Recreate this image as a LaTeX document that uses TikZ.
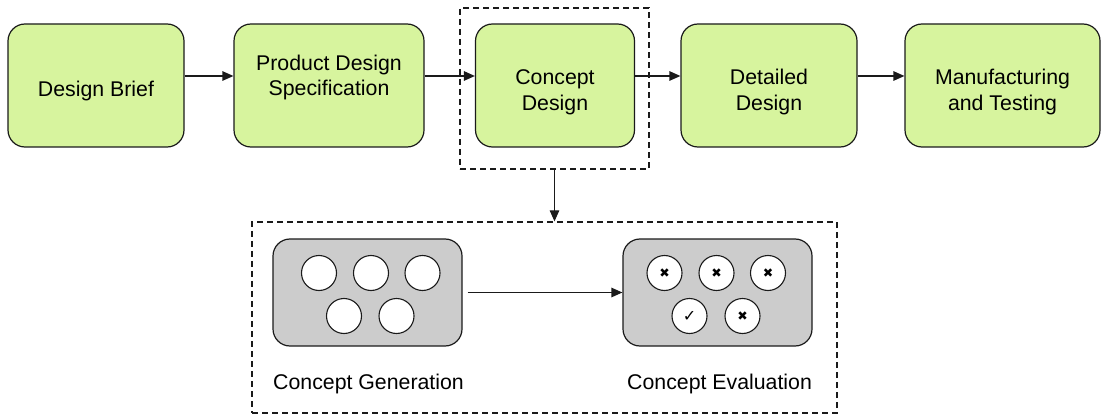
\documentclass[tikz,border=0pt]{standalone}
\usepackage{fontspec}
\setmainfont{Liberation Sans}
\newfontfamily\symfont{DejaVu Sans}
\usetikzlibrary{arrows.meta}
\definecolor{stagegreen}{HTML}{D7F49E}
\definecolor{panelgray}{HTML}{CCCCCC}
\definecolor{edge}{HTML}{1A1A1A}
\begin{document}
\begin{tikzpicture}[x=1pt,y=-1pt,
  stagebox/.style={draw=edge, line width=1.2pt, fill=stagegreen, rounded corners=17pt,
    minimum height=123pt, inner sep=0pt},
  stagelabel/.style={align=center, inner sep=0pt, font=\fontsize{21.3}{26}\selectfont},
  dashbox/.style={draw=edge, line width=1.3pt, dash pattern=on 6pt off 4pt, inner sep=0pt},
  panel/.style={draw=edge, line width=1.2pt, fill=panelgray, rounded corners=17pt,
    minimum width=189pt, minimum height=107pt, inner sep=0pt},
  idea/.style={circle, draw=edge, line width=1.1pt, fill=white, minimum size=35pt, inner sep=0pt},
  flow/.style={draw=edge, line width=1.2pt, -{Triangle[length=11pt,width=9.5pt]}},
  caption/.style={anchor=west, inner sep=0pt, font=\fontsize{21.3}{26}\selectfont},
  cross/.style={font=\symfont\fontsize{12.5}{12.5}\selectfont},
]
\useasboundingbox (0,0) rectangle (1106,417);

% top row stages
\node[stagebox, minimum width=176pt,
  label={[stagelabel, yshift=-5pt]center:Design Brief}] (db) at (96,85.5) {};
\node[stagebox, minimum width=190pt,
  label={[stagelabel, font=\fontsize{21.3}{25}\selectfont, yshift=8pt]center:{Product Design\\Specification}}] (pds) at (329,85.5) {};
\node[stagebox, minimum width=159pt,
  label={[stagelabel, yshift=-6.5pt]center:{Concept\\Design}}] (cd) at (555,85.5) {};
\node[stagebox, minimum width=176pt,
  label={[stagelabel, yshift=-6.5pt]center:{Detailed\\Design}}] (dd) at (769,85.5) {};
\node[stagebox, minimum width=195pt,
  label={[stagelabel, yshift=-6.5pt]center:{Manufacturing\\and Testing}}] (mt) at (1002.5,85.5) {};

\draw[flow] ([yshift=9.5pt]db.east) -- ([yshift=9.5pt]pds.west);
\draw[flow] ([yshift=9.5pt]pds.east) -- ([yshift=9.5pt]cd.west);
\draw[flow] ([yshift=9.5pt]cd.east) -- ([yshift=9.5pt]dd.west);
\draw[flow] ([yshift=9.5pt]dd.east) -- ([yshift=9.5pt]mt.west);

% dashed highlight around concept design
\node[dashbox, minimum width=189pt, minimum height=161pt] (cdbox) at (554.5,88.5) {};

% lower detail box
\node[dashbox, minimum width=585pt, minimum height=191pt] (low) at (544.5,317.5) {};
\draw[flow] (cdbox.south) -- (cdbox.south |- low.north);

% concept generation panel
\node[panel] (gen) at (367.5,292.5) {};
\node[idea] (g1) at (319,273) {};
\node[idea] (g2) at (371,273) {};
\node[idea] (g3) at (422.5,273) {};
\node[idea] (g4) at (344,316) {};
\node[idea] (g5) at (396.5,316) {};

% concept evaluation panel
\node[panel] (eva) at (717.5,292.5) {};
\node[idea, cross] (e1) at (664.5,273) {✖};
\node[idea, cross] (e2) at (716.5,273) {✖};
\node[idea, cross] (e3) at (768,273) {✖};
\node[idea, font=\symfont\fontsize{16}{16}\selectfont] (e4) at (689.5,316) {✓};
\node[idea, cross] (e5) at (742.5,316) {✖};

\draw[flow, shorten <=5pt] (gen.east) -- (eva.west);

\node[caption] (genlabel) at (273,384) {Concept Generation};
\node[caption] (evalabel) at (627,384) {Concept Evaluation};
\end{tikzpicture}
\end{document}
